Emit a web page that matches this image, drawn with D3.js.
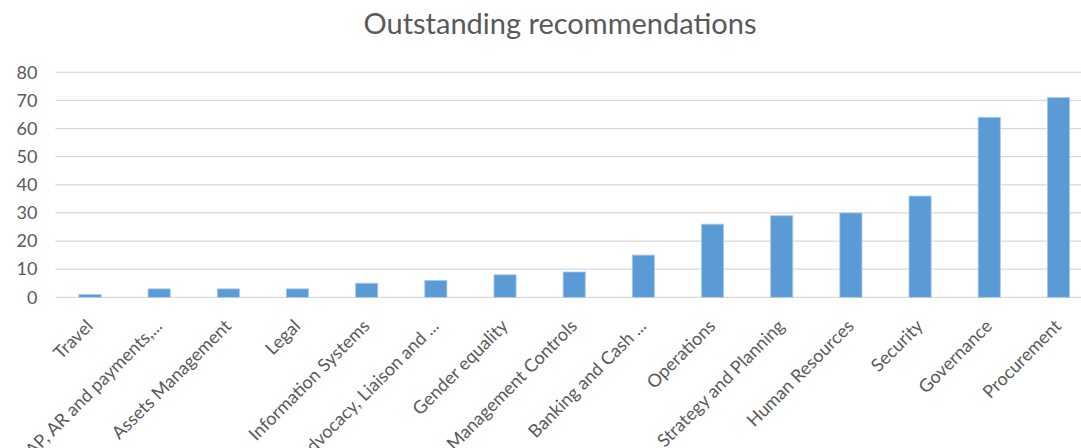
<!DOCTYPE html>
<html>
<head>
<meta charset="utf-8">
<script src="https://cdn.jsdelivr.net/npm/d3@7"></script>
<style>
  html, body { margin: 0; padding: 0; background: #fff; }
  svg { display: block; font-family: Lato, "Open Sans", sans-serif; }
</style>
</head>
<body>
<svg id="chart" width="1081" height="448"></svg>
<script>
// Outstanding recommendations per area
const categories = [
  "Travel", "AP, AR and payments,...", "Assets Management", "Legal",
  "Information Systems", "Advocacy, Liaison and ...", "Gender equality",
  "Management Controls", "Banking and Cash ...", "Operations",
  "Strategy and Planning", "Human Resources", "Security", "Governance",
  "Procurement"
];
const values = [1, 3, 3, 3, 5, 6, 8, 9, 15, 26, 29, 30, 36, 64, 71];
const yTicks = [0, 10, 20, 30, 40, 50, 60, 70, 80];
const title = "Outstanding recommendations";

const svg = d3.select("#chart");
const plot = { left: 55.4, right: 1093, top: 72.3, bottom: 297.3 };

const x = d3.scaleBand()
  .domain(categories)
  .range([plot.left, plot.right])
  .paddingInner(0.68)
  .paddingOuter(0.34);

const y = d3.scaleLinear()
  .domain([0, 80])
  .range([plot.bottom, plot.top]);

// horizontal gridlines
svg.append("g")
  .selectAll("line")
  .data(yTicks)
  .join("line")
  .attr("x1", plot.left)
  .attr("x2", plot.right)
  .attr("y1", d => y(d))
  .attr("y2", d => y(d))
  .attr("stroke", "#d9d9d9")
  .attr("stroke-width", 1.3);

// y axis labels
const yAxis = d3.axisLeft(y).tickValues(yTicks).tickSize(0).tickPadding(18);
svg.append("g")
  .attr("transform", `translate(${plot.left},0)`)
  .call(yAxis)
  .call(g => g.select(".domain").remove())
  .call(g => g.selectAll("text")
    .attr("fill", "#595959")
    .style("font-size", "18px")
    .style("font-family", "Lato, 'Open Sans', sans-serif"));

// bars
svg.append("g")
  .selectAll("rect")
  .data(categories.map((c, i) => ({ c, v: values[i] })))
  .join("rect")
  .attr("x", d => x(d.c))
  .attr("width", x.bandwidth())
  .attr("y", d => y(d.v))
  .attr("height", d => y(0) - y(d.v))
  .attr("fill", "#5b9bd5")
  .attr("stroke", "#a9c9ea")
  .attr("stroke-width", 0.8);

// category labels, rotated
const xAxis = d3.axisBottom(x).tickSize(0).tickPadding(0);
svg.append("g")
  .attr("transform", `translate(0,${plot.bottom})`)
  .call(xAxis)
  .call(g => g.select(".domain").remove())
  .call(g => g.selectAll("text")
    .attr("fill", "#595959")
    .style("font-size", "18px")
    .style("font-family", "Lato, 'Open Sans', sans-serif")
    .attr("text-anchor", "end")
    .attr("dy", "0")
    .attr("y", 0)
    .attr("transform", "translate(4,30) rotate(-45)"));

// title
svg.append("text")
  .attr("x", 560)
  .attr("y", 34)
  .attr("text-anchor", "middle")
  .attr("fill", "#595959")
  .style("font-size", "29px")
  .text(title);
</script>
</body>
</html>
